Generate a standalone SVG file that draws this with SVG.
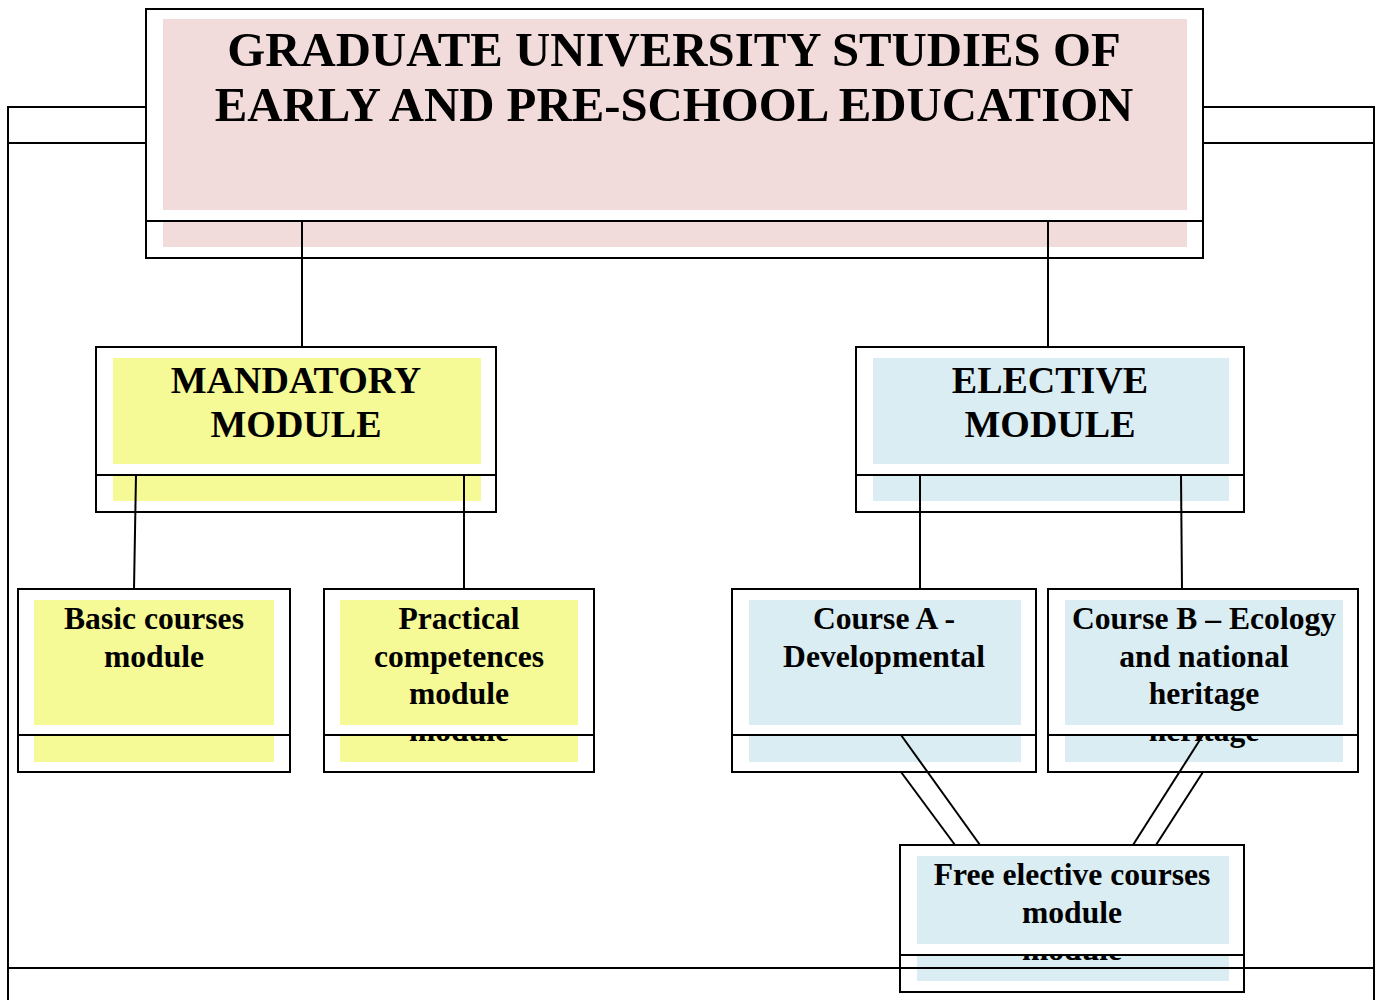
<svg xmlns="http://www.w3.org/2000/svg" width="1379" height="1000" viewBox="0 0 1379 1000">
<style>
.box{fill:#ffffff;stroke:#000;stroke-width:2}
.pink{fill:#f2dcdb}
.yel{fill:#f5f996}
.blue{fill:#daedf3}
text{font-family:"Liberation Serif","Times New Roman",serif;font-weight:bold;fill:#000;text-anchor:middle}
.t1{font-size:48.8px}
.t2{font-size:38px}
.t3{font-size:31.6px}
.ln{stroke:#000;stroke-width:2;fill:none}
</style>
<rect width="1379" height="1000" fill="#fff"/>
<g id="nodes">
<g id="title">
<rect class="box" x="146" y="46" width="1057" height="212"/>
<rect class="pink" x="163" y="56" width="1024" height="191"/>
<rect class="box" x="146" y="9" width="1057" height="212"/>
<rect class="pink" x="163" y="19" width="1024" height="191"/>
<text class="t1" x="674" y="66">GRADUATE UNIVERSITY STUDIES OF</text>
<text class="t1" x="674" y="121">EARLY AND PRE-SCHOOL EDUCATION</text>
</g>
<g id="mandatory">
<rect class="box" x="96" y="384" width="400" height="128"/>
<rect class="yel" x="113" y="395" width="368" height="106"/>
<rect class="box" x="96" y="347" width="400" height="128"/>
<rect class="yel" x="113" y="358" width="368" height="106"/>
<text class="t2" x="296" y="393">MANDATORY</text>
<text class="t2" x="296" y="437">MODULE</text>
</g>
<g id="elective">
<rect class="box" x="856" y="384" width="388" height="128"/>
<rect class="blue" x="873" y="395" width="356" height="106"/>
<rect class="box" x="856" y="347" width="388" height="128"/>
<rect class="blue" x="873" y="358" width="356" height="106"/>
<text class="t2" x="1050" y="393">ELECTIVE</text>
<text class="t2" x="1050" y="437">MODULE</text>
</g>
<g id="basic">
<rect class="box" x="18" y="626" width="272" height="146"/>
<rect class="yel" x="34" y="637" width="240" height="125"/>
<rect class="box" x="18" y="589" width="272" height="146"/>
<rect class="yel" x="34" y="600" width="240" height="125"/>
<text class="t3" x="154" y="629">Basic courses</text>
<text class="t3" x="154" y="667">module</text>
</g>
<g id="practical">
<rect class="box" x="324" y="626" width="270" height="146"/>
<rect class="yel" x="340" y="637" width="238" height="125"/>
<text class="t3" x="459" y="741">module</text>
<rect class="box" x="324" y="589" width="270" height="146"/>
<rect class="yel" x="340" y="600" width="238" height="125"/>
<text class="t3" x="459" y="629">Practical</text>
<text class="t3" x="459" y="667">competences</text>
<text class="t3" x="459" y="704">module</text>
</g>
<g id="courseA">
<rect class="box" x="732" y="626" width="304" height="146"/>
<rect class="blue" x="749" y="637" width="272" height="125"/>
<rect class="box" x="732" y="589" width="304" height="146"/>
<rect class="blue" x="749" y="600" width="272" height="125"/>
<text class="t3" x="884" y="629">Course A -</text>
<text class="t3" x="884" y="667">Developmental</text>
</g>
<g id="courseB">
<rect class="box" x="1048" y="626" width="310" height="146"/>
<rect class="blue" x="1065" y="637" width="278" height="125"/>
<text class="t3" x="1204" y="741">heritage</text>
<rect class="box" x="1048" y="589" width="310" height="146"/>
<rect class="blue" x="1065" y="600" width="278" height="125"/>
<text class="t3" x="1204" y="629">Course B – Ecology</text>
<text class="t3" x="1204" y="667">and national</text>
<text class="t3" x="1204" y="704">heritage</text>
</g>
<g id="free">
<rect class="box" x="900" y="882" width="344" height="110"/>
<rect class="blue" x="917" y="893" width="312" height="88"/>
<text class="t3" x="1072" y="960">module</text>
<rect class="box" x="900" y="845" width="344" height="110"/>
<rect class="blue" x="917" y="856" width="312" height="88"/>
<text class="t3" x="1072" y="885">Free elective courses</text>
<text class="t3" x="1072" y="923">module</text>
</g>
</g>
<g id="connectors" class="ln">
<line x1="302" y1="221" x2="302" y2="347"/>
<line x1="1048" y1="221" x2="1048" y2="347"/>
<line x1="136" y1="475" x2="134" y2="589"/>
<line x1="464" y1="475" x2="464" y2="589"/>
<line x1="920" y1="475" x2="920" y2="589"/>
<line x1="1181" y1="475" x2="1182" y2="589"/>
<line x1="901" y1="735" x2="980" y2="845"/>
<line x1="901" y1="772" x2="955" y2="845"/>
<line x1="1203" y1="735" x2="1133" y2="845"/>
<line x1="1203" y1="772" x2="1156" y2="845"/>
</g>
<g id="frame" class="ln">
<polyline points="146,107 8,107 8,1000"/>
<line x1="8" y1="143" x2="146" y2="143"/>
<polyline points="1203,107 1374,107 1374,1000"/>
<line x1="1203" y1="143" x2="1374" y2="143"/>
<line x1="8" y1="968" x2="1374" y2="968"/>
</g>
</svg>
